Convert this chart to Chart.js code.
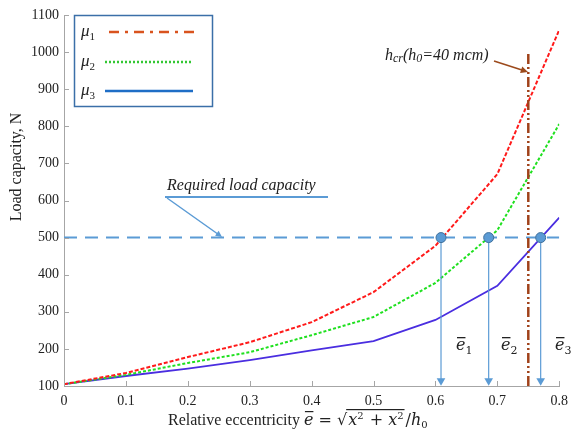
<!DOCTYPE html>
<html>
<head>
<meta charset="utf-8">
<script src="https://cdn.jsdelivr.net/npm/chart.js@4.4.1/dist/chart.umd.min.js"></script>
<style>
  html, body { margin: 0; padding: 0; background: #fff; }
  #wrap { width: 575px; height: 430px; }
</style>
</head>
<body>
<div id="wrap"><canvas id="chart"></canvas></div>
<script>
// data
const xVals = [0, 0.1, 0.2, 0.3, 0.4, 0.5, 0.6, 0.7, 0.8];
const mu1 = [105, 135, 178, 218, 272, 353, 478, 671, 1060];
const mu2 = [105, 130, 162, 191, 237, 286, 378, 520, 806];
const mu3 = [105, 127, 147, 170, 196, 221, 278, 370, 554];
const requiredLoad = 500;
const hcrX = 0.75;
const hcrTop = 995;
const crossX = [0.609, 0.686, 0.770];
const arrowEndY = 114;
const xTickLabels = ['0', '0.1', '0.2', '0.3', '0.4', '0.5', '0.6', '0.7', '0.8'];
const yTicks = [100, 200, 300, 400, 500, 600, 700, 800, 900, 1000, 1100];

const SERIF = "'Liberation Serif', 'DejaVu Serif', serif";
const MATH = "'DejaVu Serif', serif";
const AXIS = '#a6a6a6';
const BLUE = '#5b9bd5';
const BROWN = '#a0421a';

const pts = ys => xVals.map((x, i) => ({ x, y: ys[i] }));

function drawRuns(ctx, x, y, runs) {
    for (const r of runs) {
        ctx.font = r.f;
        ctx.fillText(r.t, x, y + (r.dy || 0));
        x += ctx.measureText(r.t).width + (r.gap || 0);
    }
    return x;
}

function arrow(ctx, x1, y1, x2, y2, color, w, head) {
    const a = Math.atan2(y2 - y1, x2 - x1);
    ctx.strokeStyle = color; ctx.fillStyle = color; ctx.lineWidth = w;
    ctx.setLineDash([]);
    ctx.beginPath();
    ctx.moveTo(x1, y1);
    ctx.lineTo(x2 - Math.cos(a) * head * 0.8, y2 - Math.sin(a) * head * 0.8);
    ctx.stroke();
    ctx.beginPath();
    ctx.moveTo(x2, y2);
    ctx.lineTo(x2 - head * Math.cos(a - 0.45), y2 - head * Math.sin(a - 0.45));
    ctx.lineTo(x2 - head * Math.cos(a + 0.45), y2 - head * Math.sin(a + 0.45));
    ctx.closePath();
    ctx.fill();
}

// inward ticks, titles, legend and annotations
const extras = {
    id: 'extras',
    afterDatasetsDraw(chart) {
        const { ctx, chartArea: ca, scales: { x, y } } = chart;
        ctx.save();

        // inward tick marks
        ctx.strokeStyle = AXIS; ctx.lineWidth = 1;
        ctx.beginPath();
        xVals.forEach(v => {
            const px = Math.round(x.getPixelForValue(v)) + 0.5;
            ctx.moveTo(px, ca.bottom); ctx.lineTo(px, ca.bottom - 5);
        });
        yTicks.forEach(v => {
            const py = Math.round(y.getPixelForValue(v)) + 0.5;
            ctx.moveTo(ca.left, py); ctx.lineTo(ca.left + 5, py);
        });
        ctx.stroke();

        ctx.fillStyle = '#222';
        ctx.textBaseline = 'alphabetic';
        ctx.textAlign = 'left';

        // Required load capacity callout
        ctx.font = 'italic 16px ' + SERIF;
        ctx.fillText('Required load capacity', 167, 190);
        ctx.strokeStyle = BLUE; ctx.lineWidth = 2;
        ctx.beginPath(); ctx.moveTo(165, 197); ctx.lineTo(328, 197); ctx.stroke();
        arrow(ctx, 167, 198, 222, 237, BLUE, 1.5, 7);

        // h_cr callout
        ctx.fillStyle = '#222';
        drawRuns(ctx, 385, 60, [
            { t: 'h', f: 'italic 16px ' + SERIF },
            { t: 'cr', f: 'italic 12px ' + SERIF, dy: 2 },
            { t: '(h', f: 'italic 16px ' + SERIF },
            { t: '0', f: 'italic 12px ' + SERIF, dy: 2 },
            { t: '=40 mcm)', f: 'italic 16px ' + SERIF }
        ]);
        arrow(ctx, 494, 61, 528, 72, '#9c4a1c', 1.5, 8);

        // e-bar labels
        const ebar = [[463, '1'], [508, '2'], [562, '3']];
        ebar.forEach(([px, s]) => {
            ctx.fillStyle = '#222';
            ctx.font = 'italic 16px ' + MATH;
            const w = ctx.measureText('e').width;
            ctx.fillText('e', px - 7, 350);
            ctx.fillRect(px - 6, 337, w - 1, 1.3);
            ctx.font = '11px ' + MATH;
            ctx.fillText(s, px - 7 + w, 354);
        });

        // y axis title
        ctx.save();
        ctx.translate(17, 167);
        ctx.rotate(-Math.PI / 2);
        ctx.textAlign = 'center';
        ctx.textBaseline = 'middle';
        ctx.font = '16px ' + SERIF;
        ctx.fillStyle = '#222';
        ctx.fillText('Load capacity, N', 0, 0);
        ctx.restore();

        // x axis title with formula
        ctx.fillStyle = '#222';
        ctx.textAlign = 'left';
        const by = 425;
        let cx = drawRuns(ctx, 168, by, [
            { t: 'Relative eccentricity ', f: '16px ' + SERIF }
        ]);
        ctx.font = 'italic 16px ' + MATH;
        const ew = ctx.measureText('e').width;
        ctx.fillText('e', cx, by);
        ctx.fillRect(cx + 1, by - 14, ew - 1, 1.2);
        cx += ew;
        cx = drawRuns(ctx, cx, by, [{ t: ' = ', f: '16px ' + MATH }]);
        cx = drawRuns(ctx, cx, by, [{ t: '\u221A', f: '16px ' + MATH }]);
        const ox = cx;
        cx = drawRuns(ctx, cx + 1, by, [
            { t: 'x', f: 'italic 16px ' + MATH },
            { t: '2', f: '10px ' + MATH, dy: -6, gap: 1 },
            { t: ' + ', f: '16px ' + MATH },
            { t: 'x', f: 'italic 16px ' + MATH },
            { t: '2', f: '10px ' + MATH, dy: -6, gap: 1 }
        ]);
        ctx.fillRect(ox - 1, by - 16, cx - ox + 1, 1.2);
        drawRuns(ctx, cx + 1, by, [
            { t: '/', f: '16px ' + MATH },
            { t: 'h', f: 'italic 16px ' + MATH },
            { t: '0', f: '10px ' + MATH, dy: 3 }
        ]);

        // legend box
        ctx.fillStyle = '#fff';
        ctx.fillRect(74, 15, 138, 91);
        ctx.strokeStyle = '#3b6fa8'; ctx.lineWidth = 1.5;
        ctx.strokeRect(74.5, 15.5, 138, 91);
        const legend = [
            { s: '1', y: 32, c: '#d9531e', dash: [10, 6, 3, 6], x0: 109, x1: 198 },
            { s: '2', y: 62, c: '#33c733', dash: [2, 2], x0: 105, x1: 193 },
            { s: '3', y: 91, c: '#1f6ec6', dash: [], x0: 105, x1: 193 }
        ];
        legend.forEach(it => {
            ctx.fillStyle = '#222';
            drawRuns(ctx, 81, it.y + 4, [
                { t: '\u03BC', f: 'italic 17px ' + SERIF },
                { t: it.s, f: '11px ' + SERIF, dy: 4 }
            ]);
            ctx.strokeStyle = it.c; ctx.lineWidth = 2.5;
            ctx.setLineDash(it.dash);
            ctx.beginPath(); ctx.moveTo(it.x0, it.y); ctx.lineTo(it.x1, it.y); ctx.stroke();
        });
        ctx.setLineDash([]);
        ctx.restore();
    }
};

const datasets = [
    {
        label: 'crossings', data: crossX.map(x => ({ x, y: requiredLoad })),
        showLine: false, pointRadius: 5, pointBackgroundColor: BLUE,
        pointBorderColor: '#41719c', pointBorderWidth: 1, order: 0
    },
    ...crossX.map(x => ({
        label: 'drop', data: [{ x, y: requiredLoad }, { x, y: arrowEndY }],
        borderColor: BLUE, borderWidth: 1.2, pointRadius: [0, 5],
        pointStyle: 'triangle', rotation: 180, pointBackgroundColor: BLUE,
        pointBorderColor: BLUE, pointBorderWidth: 0, order: 1
    })),
    {
        label: 'hcr', data: [{ x: hcrX, y: 100 }, { x: hcrX, y: hcrTop }],
        borderColor: BROWN, borderWidth: 2.5, borderDash: [10, 3, 2, 3, 2, 3],
        pointRadius: 0, order: 2
    },
    {
        label: 'mu1', data: pts(mu1), borderColor: '#ff1a1a', borderWidth: 2,
        borderDash: [4, 2], pointRadius: 0, order: 3
    },
    {
        label: 'mu2', data: pts(mu2), borderColor: '#1fe01f', borderWidth: 2,
        borderDash: [3, 2], pointRadius: 0, order: 4
    },
    {
        label: 'mu3', data: pts(mu3), borderColor: '#4a2ee0', borderWidth: 1.8,
        pointRadius: 0, order: 5
    },
    {
        label: 'required', data: [{ x: 0, y: requiredLoad }, { x: 0.8, y: requiredLoad }],
        borderColor: BLUE, borderWidth: 2, borderDash: [13, 8], pointRadius: 0, order: 6
    }
];

new Chart(document.getElementById('chart'), {
    type: 'line',
    data: { datasets },
    options: {
        responsive: true, maintainAspectRatio: false, animation: false,
        layout: { padding: { top: 15, right: 7, left: 0, bottom: 0 }, autoPadding: false },
        elements: { line: { tension: 0, fill: false } },
        plugins: { legend: { display: false }, tooltip: { enabled: false } },
        scales: {
            x: {
                type: 'linear', min: 0, max: 0.8,
                afterFit: s => { s.height = 44; },
                ticks: {
                    stepSize: 0.1, color: '#222', padding: 7, maxRotation: 0,
                    font: { family: SERIF, size: 14 },
                    callback: (v, i) => xTickLabels[i]
                },
                grid: { display: false, drawTicks: false },
                border: { display: true, color: AXIS, width: 1 }
            },
            y: {
                min: 100, max: 1100,
                afterFit: s => { s.width = 64; },
                ticks: {
                    stepSize: 100, color: '#222', padding: 5,
                    font: { family: SERIF, size: 14 },
                    callback: v => String(v)
                },
                grid: { display: false, drawTicks: false },
                border: { display: true, color: AXIS, width: 1 }
            }
        }
    },
    plugins: [extras]
});
</script>
</body>
</html>
